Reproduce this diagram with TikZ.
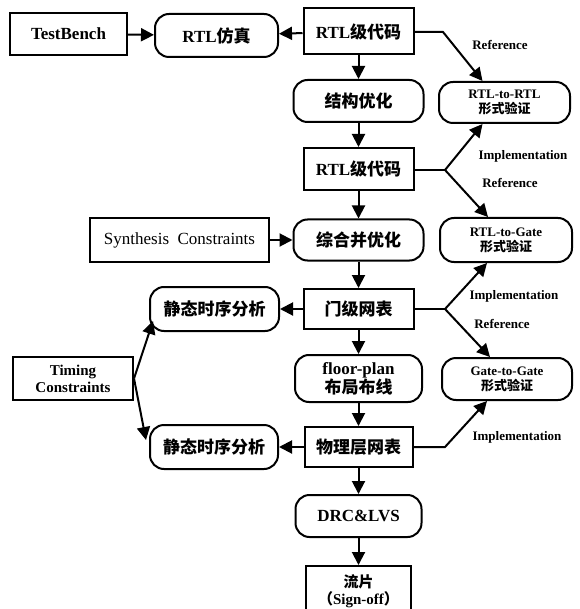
\documentclass[tikz,border=0pt]{standalone}
\usepackage{fontspec}
\setmainfont{Liberation Serif}
\newfontfamily\cjkfont{Noto Sans CJK SC}
\newcommand{\zhtxt}[1]{{\cjkfont\bfseries #1}}
\usetikzlibrary{arrows.meta,calc}
\tikzset{
  base/.style={draw, line width=2pt, inner sep=0pt, align=center,
    font=\fontsize{17}{19}\selectfont\bfseries},
  sq/.style={base},
  rd/.style={base, rounded corners=14pt},
  sz/.style 2 args={minimum width=#1pt, minimum height=#2pt},
  lab/.style={font=\fontsize{13}{15}\selectfont\bfseries, inner sep=0pt},
  conn/.style={line width=2pt, -{Triangle[length=13pt,width=13pt]}},
  plain/.style={line width=2pt}
}
\begin{document}
\begin{tikzpicture}[x=1pt,y=-1pt]
\clip (0,0) rectangle (579,609);
\fill[white] (0,0) rectangle (579,609);
% main column
\node[sq, sz={117}{42}] (tb) at (68.5,34) {TestBench};
\node[rd, sz={123}{43}] (sim) at (216.5,35.5) {RTL\zhtxt{仿真}};
\node[sq, sz={110}{46}] (rtl1) at (358.5,31.5) {RTL\zhtxt{级代码}};
\node[rd, sz={130}{42}] (str) at (358.5,101) {\zhtxt{结构优化}};
\node[rd, sz={131}{41}, font=\fontsize{13}{15}\selectfont\bfseries] (r2r) at (504.5,102.5) {RTL-to-RTL\\\zhtxt{形式验证}};
\node[sq, sz={110}{42}] (rtl2) at (358.5,169) {RTL\zhtxt{级代码}};
\node[rd, sz={130}{41}] (syn) at (358.5,240) {\zhtxt{综合并优化}};
\node[rd, sz={132}{44}, font=\fontsize{13}{15}\selectfont\bfseries] (r2g) at (506,240) {RTL-to-Gate\\\zhtxt{形式验证}};
\node[sq, sz={179}{44}, font=\fontsize{17}{19}\selectfont] (sc) at (179.5,240) {Synthesis\ \ Constraints};
\node[sq, sz={110}{40}] (gate) at (358.5,309) {\zhtxt{门级网表}};
\node[rd, sz={129}{44}] (sta1) at (214.5,309) {\zhtxt{静态时序分析}};
\node[rd, sz={127}{47}, font=\fontsize{17}{18}\selectfont\bfseries] (fp) at (358.5,378.5) {floor-plan\\\zhtxt{布局布线}};
\node[rd, sz={130}{42}, font=\fontsize{13}{15}\selectfont\bfseries] (g2g) at (507,379) {Gate-to-Gate\\\zhtxt{形式验证}};
\node[sq, sz={120}{43}, font=\fontsize{15}{17}\selectfont\bfseries] (tc) at (73,378.5) {Timing\\Constraints};
\node[sq, sz={108}{40}] (phy) at (358.5,447) {\zhtxt{物理层网表}};
\node[rd, sz={128}{44}] (sta2) at (214,447) {\zhtxt{静态时序分析}};
\node[rd, sz={126}{42}] (drc) at (358.5,516) {DRC\&LVS};
\node[sq, sz={105}{50}, anchor=north, font=\fontsize{15}{17}\selectfont\bfseries] (sign) at (358.5,565) {\zhtxt{流片}\\\zhtxt{（}Sign-off\zhtxt{）}};
% vertical / horizontal arrows
\draw[conn] (tb) -- (sim);
\draw[conn] (rtl1) -- (sim);
\draw[conn] (rtl1) -- (str);
\draw[conn] (str) -- (rtl2);
\draw[conn] (rtl2) -- (syn);
\draw[conn] (sc) -- (syn);
\draw[conn] (syn) -- (gate);
\draw[conn] (gate) -- (sta1);
\draw[conn] (gate) -- (fp);
\draw[conn] (fp) -- (phy);
\draw[conn] (phy) -- (sta2);
\draw[conn] (phy) -- (drc);
\draw[conn] (drc) -- (sign);
% verification branches
\coordinate (b1) at (443,32);
\coordinate (b2) at (445,170);
\coordinate (b3) at (445,309);
\coordinate (b4) at (445,447);
\draw[conn] (rtl1.east |- b1) -- (b1) -- ($(r2r.north)+(-22,0)$);
\draw[plain] (rtl2.east |- b2) -- (b2);
\draw[conn] (b2) -- ($(r2r.south)+(-22,0)$);
\draw[conn] (b2) -- ($(r2g.north)+(-18,0)$);
\draw[plain] (gate.east |- b3) -- (b3);
\draw[conn] (b3) -- ($(r2g.south)+(-19,0)$);
\draw[conn] (b3) -- ($(g2g.north)+(-17,0)$);
\draw[conn] (phy.east |- b4) -- (b4) -- ($(g2g.south)+(-20,0)$);
% timing constraints
\coordinate (tcp) at (tc.east);
\draw[conn] (tcp) -- (153,321);
\draw[conn] (tcp) -- (146,440);
% labels
\node[lab] (l1) at (500,45) {Reference};
\node[lab] (l2) at (523,156) {Implementation};
\node[lab] (l3) at (510,183) {Reference};
\node[lab] (l4) at (514,296) {Implementation};
\node[lab] (l5) at (502,324) {Reference};
\node[lab] (l6) at (517,437) {Implementation};
\end{tikzpicture}
\end{document}
